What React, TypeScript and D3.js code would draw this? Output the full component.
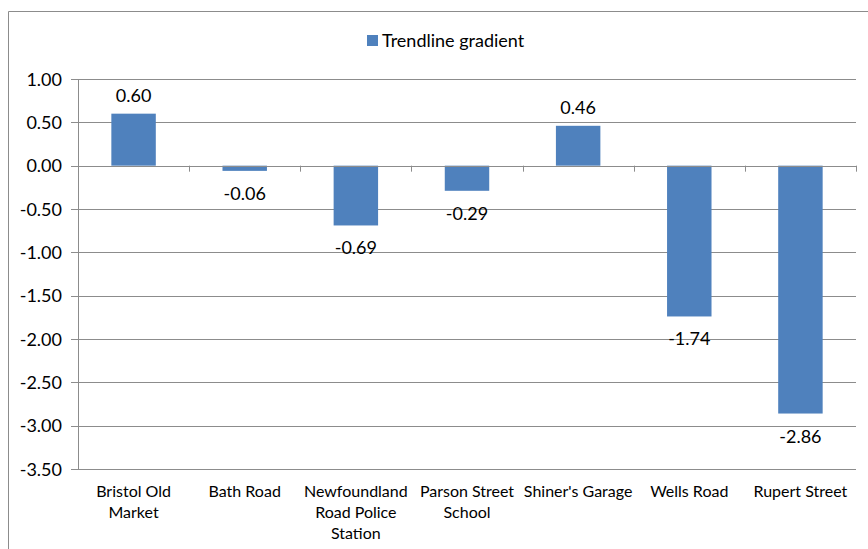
import React from 'react'
import * as d3 from 'd3'

// chart data
const categories = ['Bristol Old Market', 'Bath Road', 'Newfoundland Road Police Station', 'Parson Street School', "Shiner's Garage", 'Wells Road', 'Rupert Street']
const categoryLines = [['Bristol Old', 'Market'], ['Bath Road'], ['Newfoundland', 'Road Police', 'Station'], ['Parson Street', 'School'], ["Shiner's Garage"], ['Wells Road'], ['Rupert Street']]
const gradients = [0.6, -0.06, -0.69, -0.29, 0.46, -1.74, -2.86]
const yTicks = [1, 0.5, 0, -0.5, -1, -1.5, -2, -2.5, -3, -3.5]
const seriesName = 'Trendline gradient'

const W = 868
const H = 549
const margin = { top: 79, right: 12, bottom: 80, left: 78 }
const barColor = '#4F81BD'
const gridColor = '#8c8c8c'
const font = 'Lato, "Open Sans", sans-serif'

const App = () => {
  const x = d3.scaleBand<string>()
    .domain(categories)
    .range([margin.left, W - margin.right])
    .paddingInner(0.6)
    .paddingOuter(0.3)
  const y = d3.scaleLinear()
    .domain([-3.5, 1])
    .range([H - margin.bottom, margin.top])
  const step = x.step()
  const x0 = margin.left
  const x1 = W - margin.right
  const zeroY = y(0)

  return (
    <svg width={W} height={H} style={{ position: 'absolute', left: 0, top: 0, display: 'block', background: '#fff' }} fontFamily={font}>
      {/* outer frame, runs off right/bottom edge */}
      <path d={`M8.5,${H} V11.5 H${W}`} fill="none" stroke={gridColor} strokeWidth={1} />

      {/* legend */}
      <rect x={367} y={35} width={11} height={11} fill={barColor} />
      <text x={382} y={47} fontSize={18} fill="#000">{seriesName}</text>

      {/* gridlines + y labels */}
      {yTicks.map(t => (
        <g key={t}>
          <line x1={x0 - 7} x2={x1} y1={Math.round(y(t)) + 0.5} y2={Math.round(y(t)) + 0.5} stroke={gridColor} strokeWidth={1} />
          <text x={62} y={y(t) + 6.5} textAnchor="end" fontSize={18} fill="#000">{t.toFixed(2)}</text>
        </g>
      ))}
      <line x1={x0 + 0.5} x2={x0 + 0.5} y1={y(1)} y2={y(-3.5)} stroke={gridColor} strokeWidth={1} />

      {/* bars */}
      {gradients.map((v, i) => {
        const c = categories[i]
        const top = Math.min(y(v), zeroY)
        const h = Math.abs(y(v) - zeroY)
        return (
          <g key={c}>
            <rect x={x(c)} y={top} width={x.bandwidth()} height={h} fill={barColor} />
            <text
              x={x(c)! + x.bandwidth() / 2}
              y={v >= 0 ? y(v) - 12 : y(v) + 29}
              textAnchor="middle" fontSize={18} fill="#000">{v.toFixed(2)}</text>
          </g>
        )
      })}

      {/* category axis at zero */}
      <line x1={x0} x2={x1} y1={Math.round(zeroY) + 0.5} y2={Math.round(zeroY) + 0.5} stroke={gridColor} strokeWidth={1} />
      {d3.range(categories.length + 1).map(i => (
        <line key={i} x1={Math.round(x0 + i * step) + 0.5} x2={Math.round(x0 + i * step) + 0.5}
          y1={zeroY} y2={zeroY + 6} stroke={gridColor} strokeWidth={1} />
      ))}

      {/* category labels */}
      {categoryLines.map((lines, i) => (
        <text key={i} textAnchor="middle" fontSize={16} fill="#000">
          {lines.map((ln, j) => (
            <tspan key={j} x={x(categories[i])! + x.bandwidth() / 2} y={497 + j * 21}>{ln}</tspan>
          ))}
        </text>
      ))}
    </svg>
  )
}

export default App
